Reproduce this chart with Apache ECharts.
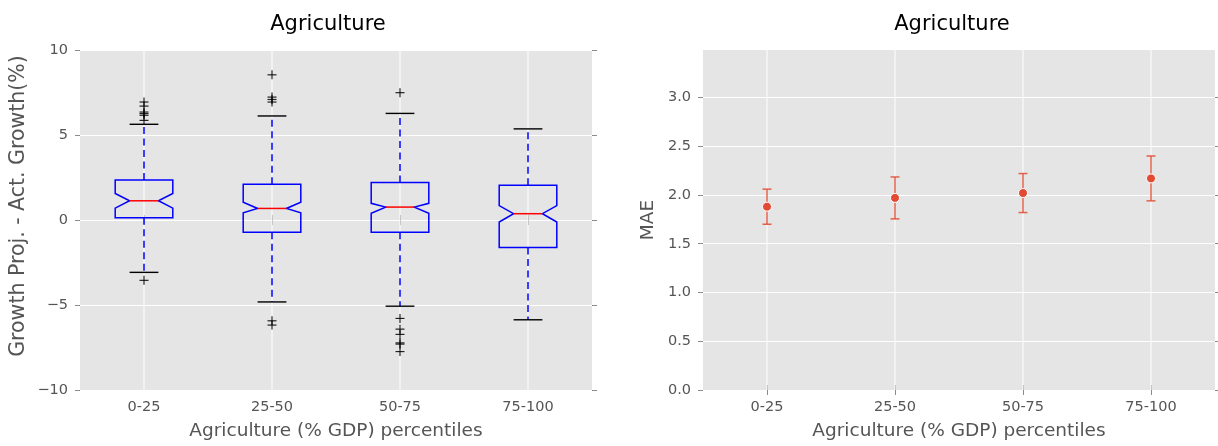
<!DOCTYPE html>
<html>
<head>
<meta charset="utf-8">
<script src="https://cdn.jsdelivr.net/npm/echarts@6/dist/echarts.min.js"></script>
<style>
  html, body { margin: 0; padding: 0; background: #ffffff; }
  #chart { width: 1218px; height: 446px; }
</style>
</head>
<body>
<div id="chart"></div>
<script>
// Percentile groups of the agriculture share of GDP
const categories = ['0-25', '25-50', '50-75', '75-100'];

// Notched box plot of projection error (growth projection minus actual growth, %)
const whiskerLow  = [-3.08, -4.82, -5.07, -5.87];
const q1          = [ 0.13, -0.72, -0.72, -1.62];
const notchLow    = [ 0.70,  0.43,  0.40, -0.12];
const median      = [ 1.13,  0.68,  0.76,  0.37];
const notchHigh   = [ 1.56,  1.05,  0.98,  0.85];
const q3          = [ 2.36,  2.10,  2.20,  2.05];
const whiskerHigh = [ 5.63,  6.12,  6.27,  5.36];
// Outlying points per group
const outliers = [
  [6.94, 6.70, 6.35, 6.26, 6.16, 5.86, -3.55],
  [8.54, 7.23, 7.09, 6.94, -5.93, -6.18],
  [7.49, -5.79, -6.42, -6.73, -7.23, -7.30, -7.74],
  []
];

// Mean absolute error with its error bar half-length
const mae    = [1.88, 1.97, 2.02, 2.17];
const maeErr = [0.18, 0.215, 0.20, 0.23];

// Tick labels
const boxTicks = [-10, -5, 0, 5, 10];
const maeTicks = [0.0, 0.5, 1.0, 1.5, 2.0, 2.5, 3.0];

const FONT = 'DejaVu Sans';
const TEXT = '#555555';
const TICK = '#8a8a8a';

const boxData = categories.map((c, i) => [i, whiskerLow[i], q1[i], notchLow[i], median[i], notchHigh[i], q3[i], whiskerHigh[i]]);
const outlierData = [];
outliers.forEach((list, i) => list.forEach(v => outlierData.push([i, v])));
const maeData = categories.map((c, i) => [i, mae[i]]);
const errData = categories.map((c, i) => [i, mae[i] - maeErr[i], mae[i] + maeErr[i]]);
const gridLineData = categories.map((c, i) => [i]);

function minusFmt(v) {
  return v < 0 ? '\u2212' + Math.abs(v) : String(v);
}

function renderBox(params, api) {
  const idx = api.value(0);
  const band = api.size([1, 0])[0];
  const half = band * 0.45 / 2;
  const inset = half / 2;
  const cx = api.coord([idx, 0])[0];
  const y = v => api.coord([idx, api.value(v)])[1];
  const yWl = y(1), yQ1 = y(2), yNl = y(3), yMed = y(4), yNh = y(5), yQ3 = y(6), yWh = y(7);
  const L = cx - half, R = cx + half;
  const blue = { stroke: '#0000ff', lineWidth: 1.5, fill: null };
  const dashed = { stroke: '#0000ff', lineWidth: 1.5, lineDash: [7, 4.5] };
  const black = { stroke: '#000000', lineWidth: 1.4 };
  return {
    type: 'group',
    children: [
      { type: 'line', shape: { x1: cx, y1: yQ1, x2: cx, y2: yWl }, style: dashed },
      { type: 'line', shape: { x1: cx, y1: yQ3, x2: cx, y2: yWh }, style: dashed },
      { type: 'line', shape: { x1: cx - inset, y1: yWl, x2: cx + inset, y2: yWl }, style: black },
      { type: 'line', shape: { x1: cx - inset, y1: yWh, x2: cx + inset, y2: yWh }, style: black },
      {
        type: 'polygon',
        shape: {
          points: [
            [L, yQ1], [L, yNl], [L + inset, yMed], [L, yNh], [L, yQ3],
            [R, yQ3], [R, yNh], [R - inset, yMed], [R, yNl], [R, yQ1]
          ]
        },
        style: blue
      },
      { type: 'line', shape: { x1: L + inset, y1: yMed, x2: R - inset, y2: yMed }, style: { stroke: '#ff0000', lineWidth: 1.5 } }
    ]
  };
}

function renderPlus(params, api) {
  const p = api.coord([api.value(0), api.value(1)]);
  const s = 4.5;
  const st = { stroke: 'rgba(0,0,0,0.85)', lineWidth: 1.2 };
  return {
    type: 'group',
    children: [
      { type: 'line', shape: { x1: p[0] - s, y1: p[1], x2: p[0] + s, y2: p[1] }, style: st },
      { type: 'line', shape: { x1: p[0], y1: p[1] - s, x2: p[0], y2: p[1] + s }, style: st }
    ]
  };
}

function renderErr(params, api) {
  const idx = api.value(0);
  const lo = api.coord([idx, api.value(1)]);
  const hi = api.coord([idx, api.value(2)]);
  const c = 4.5;
  const st = { stroke: 'rgba(226,74,51,0.85)', lineWidth: 1.5 };
  return {
    type: 'group',
    children: [
      { type: 'line', shape: { x1: lo[0], y1: lo[1], x2: hi[0], y2: hi[1] }, style: st },
      { type: 'line', shape: { x1: lo[0] - c, y1: lo[1], x2: lo[0] + c, y2: lo[1] }, style: st },
      { type: 'line', shape: { x1: hi[0] - c, y1: hi[1], x2: hi[0] + c, y2: hi[1] }, style: st }
    ]
  };
}

// Vertical white grid lines through each category centre
function renderVGrid(params, api) {
  const cs = params.coordSys;
  const x = api.coord([api.value(0), 0])[0];
  return {
    type: 'line',
    shape: { x1: x, y1: cs.y, x2: x, y2: cs.y + cs.height },
    style: { stroke: '#ffffff', lineWidth: 1 }
  };
}

function bottomX(gridIndex) {
  return {
    type: 'category', gridIndex, position: 'bottom', data: categories, boundaryGap: true,
    axisLine: { show: false },
    axisTick: { show: true, alignWithLabel: true, length: 5, inside: false, lineStyle: { color: TICK, width: 1 } },
    axisLabel: { color: TEXT, fontSize: 14.5, fontFamily: FONT, margin: 10 },
    splitLine: { show: false },
    name: 'Agriculture (% GDP) percentiles', nameLocation: 'middle', nameGap: 32,
    nameTextStyle: { color: TEXT, fontSize: 18.5, fontFamily: FONT }
  };
}
function topX(gridIndex) {
  return {
    type: 'category', gridIndex, position: 'top', data: categories, boundaryGap: true,
    axisLine: { show: false },
    axisTick: { show: true, alignWithLabel: true, length: 5, lineStyle: { color: TICK, width: 1 } },
    axisLabel: { show: false }, splitLine: { show: false }
  };
}
function leftY(gridIndex, min, max, ticks, fmt, name, nameGap, nameStyle) {
  return {
    type: 'value', gridIndex, position: 'left', min, max,
    axisLine: { show: false },
    axisTick: { show: true, length: 5, lineStyle: { color: TICK, width: 1 }, customValues: ticks },
    axisLabel: { color: TEXT, fontSize: 14.5, fontFamily: FONT, margin: 12, formatter: fmt, customValues: ticks },
    splitLine: { show: true, lineStyle: { color: '#ffffff', width: 1 } },
    name, nameLocation: 'middle', nameGap,
    nameTextStyle: Object.assign({ color: TEXT, fontSize: 18.5, fontFamily: FONT }, nameStyle || {})
  };
}
function rightY(gridIndex, min, max, ticks) {
  return {
    type: 'value', gridIndex, position: 'right', min, max,
    axisLine: { show: false },
    axisTick: { show: true, length: 5, lineStyle: { color: TICK, width: 1 }, customValues: ticks },
    axisLabel: { show: false }, splitLine: { show: false }
  };
}

const chart = echarts.init(document.getElementById('chart'), null, { renderer: 'canvas' });
chart.setOption({
  animation: false,
  backgroundColor: '#ffffff',
  title: [
    { text: 'Agriculture', left: 323, top: 9, textAlign: 'center',
      textStyle: { fontFamily: FONT, fontSize: 21, fontWeight: 'normal', color: '#000000' } },
    { text: 'Agriculture', left: 947, top: 9, textAlign: 'center',
      textStyle: { fontFamily: FONT, fontSize: 21, fontWeight: 'normal', color: '#000000' } }
  ],
  grid: [
    { left: 80, top: 50, width: 512, height: 342, show: true, backgroundColor: '#e5e5e5', borderWidth: 0 },
    { left: 703, top: 50, width: 512, height: 342, show: true, backgroundColor: '#e5e5e5', borderWidth: 0 }
  ],
  xAxis: [bottomX(0), topX(0), bottomX(1), topX(1)],
  yAxis: [
    leftY(0, -10, 10, boxTicks, minusFmt, 'Growth Proj. - Act. Growth(%)', 51,
      { fontSize: 20.5, padding: [0, 0, 0, 28] }),
    rightY(0, -10, 10, boxTicks),
    leftY(1, 0, 3.487, maeTicks, v => v.toFixed(1), 'MAE', 45),
    rightY(1, 0, 3.487, maeTicks)
  ],
  series: [
    { type: 'custom', xAxisIndex: 0, yAxisIndex: 0, z: 1, silent: true, data: gridLineData,
      renderItem: renderVGrid, encode: { x: 0 } },
    { type: 'custom', xAxisIndex: 0, yAxisIndex: 0, z: 3, data: boxData,
      renderItem: renderBox, encode: { x: 0, y: [1, 2, 3, 4, 5, 6, 7] } },
    { type: 'custom', xAxisIndex: 0, yAxisIndex: 0, z: 4, data: outlierData,
      renderItem: renderPlus, encode: { x: 0, y: 1 } },
    { type: 'custom', xAxisIndex: 2, yAxisIndex: 2, z: 1, silent: true, data: gridLineData,
      renderItem: renderVGrid, encode: { x: 0 } },
    { type: 'custom', xAxisIndex: 2, yAxisIndex: 2, z: 3, data: errData,
      renderItem: renderErr, encode: { x: 0, y: [1, 2] } },
    { type: 'scatter', xAxisIndex: 2, yAxisIndex: 2, z: 4, data: maeData,
      symbol: 'circle', symbolSize: 9,
      itemStyle: { color: '#E24A33', borderColor: '#ffffff', borderWidth: 1, opacity: 1 } }
  ]
});
</script>
</body>
</html>
